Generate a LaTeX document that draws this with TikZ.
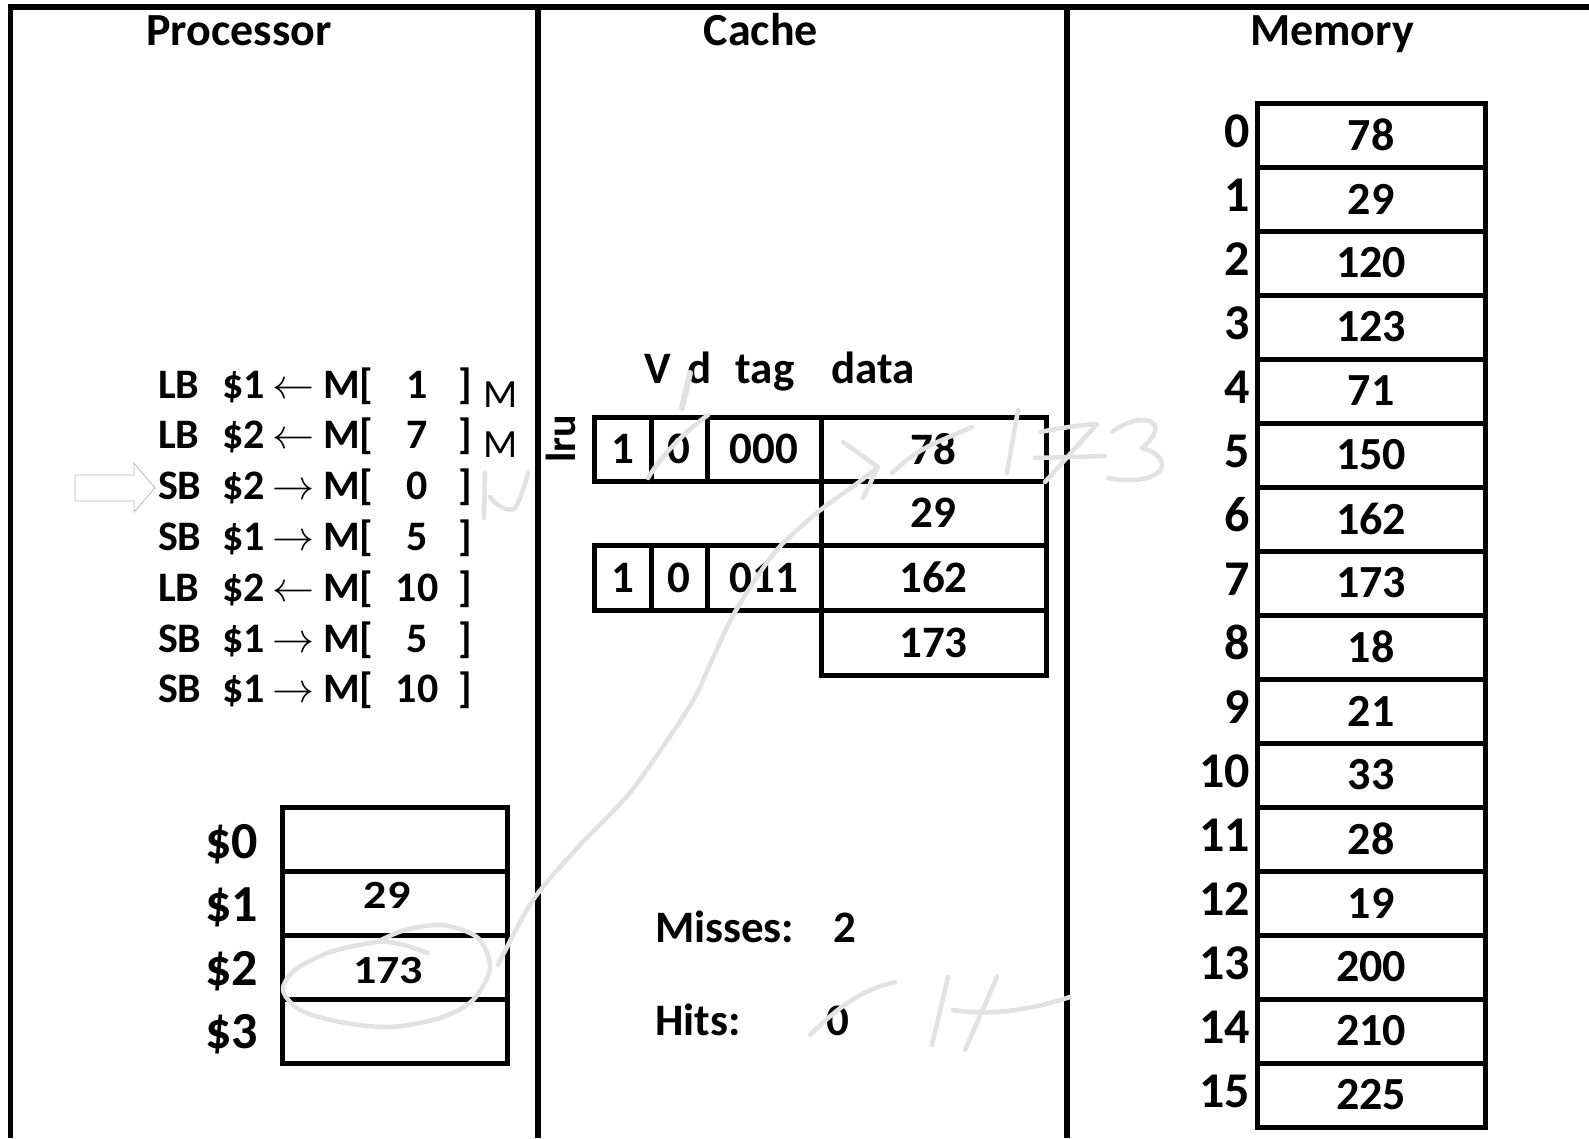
\documentclass[tikz,border=0pt]{standalone}
\usepackage{fix-cm}
\usepackage{graphicx}
\usepackage{fontspec}
\setmainfont{Carlito}
\newcommand\fsz[1]{\fontsize{#1}{#1}\selectfont}
\definecolor{hwgray}{RGB}{226,226,226}
\begin{document}
\begin{tikzpicture}[x=1pt,y=-1pt,
  frame/.style={line width=5.5pt},
  cell/.style={draw, line width=5pt, inner sep=0pt, outer sep=0pt},
  txt/.style={inner sep=0pt, outer sep=0pt, font=\fsz{42}\bfseries},
  title/.style={inner sep=0pt, outer sep=0pt, font=\fsz{46}\bfseries},
  hw/.style={draw=hwgray, line width=4.5pt, line cap=round, line join=round}
]
\useasboundingbox (0,0) rectangle (1589,1138);
\fill[white] (0,0) rectangle (1589,1138);
% frame
\coordinate (tl) at (10.5,7);
\coordinate (tr) at (1589,7);
\coordinate (bl) at (10.5,1138);
\coordinate (d1t) at (538,7);
\coordinate (d1b) at (538,1138);
\coordinate (d2t) at (1067,7);
\coordinate (d2b) at (1067,1138);
\draw[frame] (bl) -- (tl) -- (tr);
\draw[frame] (d1t) -- (d1b);
\draw[frame] (d2t) -- (d2b);
% titles
\node[title, anchor=base] (tproc) at (239,45) {Processor};
\node[title, anchor=base] (tcache) at (761,45) {Cache};
\node[title, anchor=base] (tmem) at (1332,45) {Memory};
% instructions
\foreach \i/\op/\rg/\ar/\nm in {1/LB/1/\leftarrow/1, 2/LB/2/\leftarrow/7, 3/SB/2/\rightarrow/0, 4/SB/1/\rightarrow/5, 5/LB/2/\leftarrow/10, 6/SB/1/\rightarrow/5, 7/SB/1/\rightarrow/10}{
  \pgfmathsetmacro\yb{398+50.8*(\i-1)}
  \node[txt, anchor=base west] (op\i) at (158,\yb) {\op};
  \node[txt, anchor=base west] (rg\i) at (222,\yb) {\$\rg};
  \node[txt, anchor=base] (ar\i) at (293,\yb) {$\ar$};
  \node[txt, anchor=base west] (mb\i) at (323,\yb) {M[};
  \node[txt, anchor=base] (nm\i) at (417,\yb) {\nm};
  \node[txt, anchor=base west] (cb\i) at (458,\yb) {]};
}
\node[inner sep=0pt, anchor=base west, font=\fsz{40}] (ma1) at (483,407) {M};
\node[inner sep=0pt, anchor=base west, font=\fsz{40}] (ma2) at (483,457) {M};
% hollow pointer arrow
\draw[gray!55, line width=0.8pt, line join=miter] (75,475) -- (134,475) -- (134,463) -- (155,488) -- (134,512) -- (134,501) -- (75,501) -- cycle;
% registers
\foreach \i in {0,...,3}{
  \node[cell, minimum width=225pt, minimum height=64pt] (r\i) at (394.5,839+64*\i) {};
  \node[txt, font=\fsz{52}\bfseries, anchor=base east] (rl\i) at (258,858+63.5*\i) {\$\i};
}
\node[txt, font=\fsz{40}\bfseries, anchor=base] (rv1) at (387,908) {\scalebox{1.15}[1]{29}};
\node[txt, font=\fsz{40}\bfseries, anchor=base] (rv2) at (388,983) {\scalebox{1.15}[1]{173}};
% cache
\node[txt, font=\fsz{45}\bfseries, anchor=base] (hv) at (658,383) {V};
\node[txt, font=\fsz{45}\bfseries, anchor=base] (hd) at (700,383) {d};
\node[txt, font=\fsz{45}\bfseries, anchor=base] (ht) at (765,383) {tag};
\node[txt, font=\fsz{45}\bfseries, anchor=base] (hdata) at (873,383) {data};
\node[txt, rotate=90] (lru) at (561,439) {lru};
\begin{scope}[every node/.append style={font=\fsz{45}\bfseries}]
\node[cell, minimum width=57pt, minimum height=64pt] (cav) at (622.5,449) {1};
\node[cell, minimum width=56pt, minimum height=64pt] (cad) at (679,449) {0};
\node[cell, minimum width=114pt, minimum height=64pt] (cat) at (764,449) {000};
\node[cell, minimum width=225pt, minimum height=64pt] (ca0) at (933.5,449) {78};
\node[cell, minimum width=225pt, minimum height=64pt] (ca1) at (933.5,513) {29};
\node[cell, minimum width=57pt, minimum height=65pt] (cbv) at (622.5,577.5) {1};
\node[cell, minimum width=56pt, minimum height=65pt] (cbd) at (679,577.5) {0};
\node[cell, minimum width=114pt, minimum height=65pt] (cbt) at (764,577.5) {011};
\node[cell, minimum width=225pt, minimum height=65pt] (cb0) at (933.5,577.5) {162};
\node[cell, minimum width=225pt, minimum height=65pt] (cb1) at (933.5,642.5) {173};
\end{scope}
% misses / hits
\node[txt, font=\fsz{45}\bfseries, anchor=base west] (miss) at (655,942) {Misses:};
\node[txt, font=\fsz{45}\bfseries, anchor=base] (missn) at (845,942) {2};
\node[txt, font=\fsz{45}\bfseries, anchor=base west] (hits) at (655,1035) {Hits:};
\node[txt, font=\fsz{45}\bfseries, anchor=base] (hitsn) at (838,1035) {0};
% memory
\foreach \v [count=\i from 0] in {78,29,120,123,71,150,162,173,18,21,33,28,19,200,210,225}{
  \node[cell, minimum width=228pt, minimum height=64pt, font=\fsz{46}\bfseries] (m\i) at (1371,135+64*\i) {\v};
  \node[txt, font=\fsz{50}\bfseries, anchor=base east] (ml\i) at (1250,147+64*\i) {\i};
}
% handwriting
\draw[hw] plot[smooth] coordinates {(428,953) (400,944) (377,942) (330,952) (295,970) (283,990) (300,1010) (340,1022) (390,1027) (440,1018) (473,1000) (490,968) (478,938) (443,925) (405,930) (377,942)};
\draw[hw] plot[smooth] coordinates {(498,965) (533,900) (580,845) (628,795) (664,745) (694,699) (712,660) (735,612) (775,552) (818,512) (855,485) (878,467)};
\draw[hw] (843,442) -- (878,467) -- (863,498);
\draw[hw] (648,478) .. controls (665,450) and (690,428) .. (708,415);
\draw[hw, line width=6pt] (682,408) -- (690,373);
\draw[hw] (892,473) .. controls (920,445) and (945,440) .. (972,427);
\draw[hw] (1018,410) -- (1007,473);
\draw[hw] (1040,432) .. controls (1060,428) and (1080,425) .. (1097,424) -- (1045,482);
\draw[hw] (1035,458) -- (1105,456);
\draw[hw] (1112,432) .. controls (1140,410) and (1175,420) .. (1142,448) .. controls (1178,458) and (1165,488) .. (1108,478);
\draw[hw] (485,473) -- (484,518);
\draw[hw] (490,497) .. controls (498,508) and (510,512) .. (515,508) .. controls (520,500) and (525,485) .. (528,473);
\draw[hw] (810,1035) .. controls (835,1010) and (860,990) .. (895,982);
\draw[hw] (948,977) -- (932,1045);
\draw[hw] (997,977) -- (965,1050);
\draw[hw] (953,1010) .. controls (990,1016) and (1030,1010) .. (1070,997);
\end{tikzpicture}
\end{document}
